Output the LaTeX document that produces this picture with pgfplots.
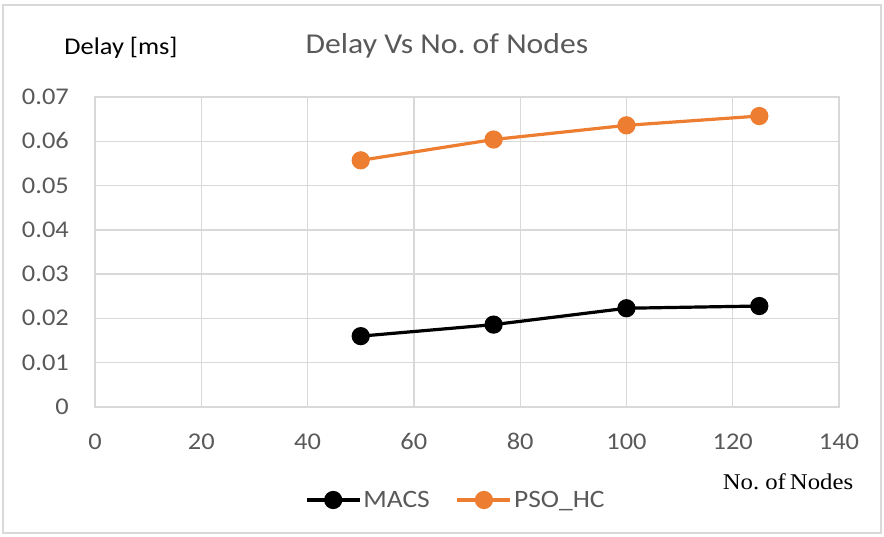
\documentclass[border=0pt]{standalone}
\usepackage{pgfplots}
\pgfplotsset{compat=1.18}
\usepackage{fontspec}
\setmainfont{Carlito}[FakeStretch=1.1]
\newfontfamily\timesfont{Liberation Serif}[FakeStretch=1.1]
\definecolor{org}{HTML}{ED7D31}
\definecolor{txtg}{HTML}{595959}
\definecolor{gridc}{HTML}{D9D9D9}
\frenchspacing
\begin{document}
\begin{tikzpicture}[x=1bp,y=1bp]
\useasboundingbox (0,0) rectangle (884,537);
\draw[gridc, line width=1.2bp] (3,4) rectangle (881,532);
\begin{axis}[
  at={(95bp,130bp)}, anchor=south west,
  scale only axis, width=744bp, height=310bp,
  xmin=0, xmax=140, ymin=0, ymax=0.07,
  xtick={0,20,40,60,80,100,120,140},
  ytick={0,0.01,0.02,0.03,0.04,0.05,0.06,0.07},
  scaled y ticks=false, scaled x ticks=false,
  grid=major, major grid style={gridc, line width=1.3bp},
  axis line style={gridc, line width=1.3bp},
  major tick length=0pt,
  /pgf/number format/assume math mode=true,
  yticklabel style={/pgf/number format/fixed, /pgf/number format/precision=2,
    anchor=base east, inner sep=0pt, xshift=-26bp, yshift=-7.5bp,
    font=\fontsize{24bp}{28bp}\selectfont, text=txtg},
  xticklabel style={anchor=base, inner sep=0pt, yshift=-43bp,
    font=\fontsize{24bp}{28bp}\selectfont, text=txtg},
  legend style={at={(0.485,-0.3)}, anchor=center, draw=none, fill=none,
    legend columns=2, font=\fontsize{25bp}{29bp}\selectfont, text=txtg,
    /tikz/every even column/.append style={column sep=24bp},
    nodes={inner sep=2bp},
    inner sep=0pt},
  legend image code/.code={\draw[mark repeat=2,mark phase=2] plot coordinates {(0bp,0bp)(26.5bp,0bp)(53bp,0bp)};},
  clip=false,
]
\addplot[black, line width=3.2bp, mark=*, mark size=7.5bp, mark options={solid}] coordinates {
  (50,0.0160) (75,0.0186) (100,0.0223) (125,0.0228)};
\addlegendentry{MACS}
\addplot[org, line width=3.2bp, mark=*, mark size=7.5bp, mark options={solid}] coordinates {
  (50,0.0557) (75,0.0604) (100,0.0636) (125,0.0657)};
\addlegendentry{PSO\_HC}
\end{axis}
\node[text=txtg, font=\fontsize{28.8bp}{32bp}\selectfont] at (447,491) {Delay Vs No. of Nodes};
\node[text=black, font=\fontsize{24bp}{28bp}\selectfont] at (121,489) {Delay [ms]};
\node[text=black, font=\timesfont\fontsize{22.5bp}{26bp}\selectfont] at (788,55) {No. of\hspace{4bp}Nodes};
\end{tikzpicture}
\end{document}
